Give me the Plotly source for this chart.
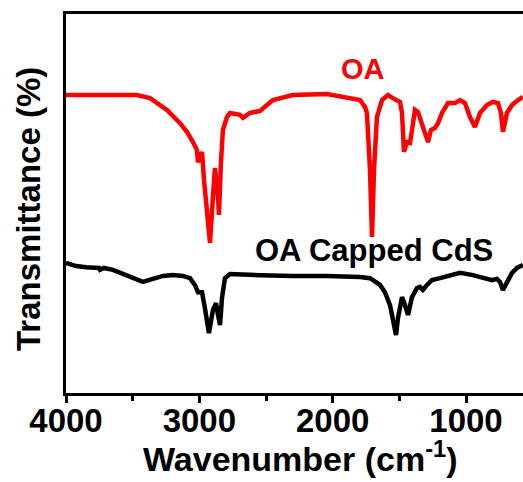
import plotly.graph_objects as go

# FTIR spectrum of oleic acid (OA)
oa_wavenumber = [4000, 3745, 3468, 3370, 3243, 3145, 3093, 3048, 3018, 3010, 2980, 2965,
                 2935, 2920, 2898, 2883, 2860, 2853, 2838, 2823, 2793, 2770, 2695, 2673,
                 2620, 2545, 2448, 2298, 2043, 1893, 1795, 1758, 1743, 1720, 1705, 1690,
                 1668, 1630, 1585, 1548, 1495, 1480, 1465, 1443, 1420, 1405, 1383, 1360,
                 1330, 1308, 1285, 1263, 1233, 1210, 1180, 1135, 1083, 1045, 1008, 970,
                 933, 895, 843, 798, 760, 738, 723, 693, 655, 610, 573]
oa_transmittance = [78.6, 78.6, 78.6, 77.8, 74.7, 71.2, 68.9, 66.2, 64.1, 60.9, 63.6, 56.2,
                    44.9, 39.6, 51.7, 59.4, 51.7, 47.0, 60.7, 69.4, 72.8, 73.9, 73.4, 72.6,
                    73.9, 74.4, 77.3, 78.6, 78.9, 78.1, 77.3, 75.5, 73.9, 58.8, 41.2, 58.8,
                    72.8, 77.3, 78.6, 77.8, 76.8, 73.9, 63.6, 66.2, 66.0, 69.4, 74.7, 74.1,
                    71.2, 68.6, 66.2, 69.4, 69.9, 71.2, 73.9, 76.5, 76.5, 77.3, 76.5, 72.8,
                    70.2, 73.9, 76.0, 76.8, 76.5, 73.9, 68.9, 73.9, 76.0, 77.3, 78.1]

# FTIR spectrum of OA-capped CdS nanoparticles
cds_wavenumber = [4000, 3925, 3850, 3753, 3745, 3715, 3648, 3573, 3498, 3423, 3348, 3273,
                  3198, 3123, 3070, 3033, 3010, 2980, 2958, 2928, 2898, 2875, 2860, 2845,
                  2830, 2808, 2770, 2643, 2545, 2298, 2043, 1795, 1720, 1645, 1608, 1570,
                  1548, 1525, 1510, 1480, 1458, 1435, 1405, 1368, 1345, 1323, 1293, 1255,
                  1195, 1120, 1045, 948, 873, 805, 768, 745, 723, 693, 655, 618, 573]
cds_transmittance = [34.3, 33.5, 33.2, 33.0, 32.5, 33.0, 32.5, 31.4, 30.1, 29.3, 30.1, 30.9,
                     31.1, 30.9, 30.3, 28.5, 26.6, 26.6, 22.4, 15.8, 21.9, 23.7, 20.6, 17.9,
                     25.1, 30.3, 31.4, 31.1, 31.1, 30.9, 30.9, 30.6, 30.3, 28.5, 26.6, 23.2,
                     18.7, 15.3, 19.8, 25.3, 23.2, 20.6, 25.3, 27.7, 28.0, 27.2, 28.5, 29.8,
                     30.3, 31.1, 31.7, 31.1, 30.3, 29.8, 30.1, 29.3, 27.2, 29.3, 31.7, 33.0, 33.8]

x_ticks = [4000, 3000, 2000, 1000]
x_tick_labels = ["4000", "3000", "2000", "1000"]
x_minor_ticks = [3500, 2500, 1500, 500]

FONT = "Liberation Sans, Arial, sans-serif"

fig = go.Figure()
fig.add_trace(go.Scatter(x=oa_wavenumber, y=oa_transmittance, mode="lines",
                         line=dict(color="#ff0000", width=4.5), name="OA"))
fig.add_trace(go.Scatter(x=cds_wavenumber, y=cds_transmittance, mode="lines",
                         line=dict(color="#000000", width=4.5), name="OA Capped CdS"))

# curve labels
fig.add_annotation(x=1772, y=85.5, text="OA", showarrow=False,
                   xanchor="center", yanchor="middle",
                   font=dict(family=FONT, size=29, color="#ff0000", weight="bold"))
fig.add_annotation(x=1690, y=37.5, text="OA Capped CdS", showarrow=False,
                   xanchor="center", yanchor="middle",
                   font=dict(family=FONT, size=31, color="#000000", weight="bold"))

# axis titles
fig.add_annotation(xref="paper", yref="paper", x=-0.081, y=0.4855,
                   text="Transmittance (%)", textangle=-90, showarrow=False,
                   xanchor="center", yanchor="middle",
                   font=dict(family=FONT, size=33, color="black", weight="bold"))
fig.add_annotation(xref="paper", yref="paper", x=0.514, y=-0.168,
                   text="Wavenumber (cm<sup>-1</sup>)", showarrow=False,
                   xanchor="center", yanchor="middle",
                   font=dict(family=FONT, size=34, color="black", weight="bold"))

fig.update_layout(
    width=523, height=482,
    margin=dict(l=66, r=0, t=14, b=89),
    paper_bgcolor="white", plot_bgcolor="white",
    showlegend=False,
    font=dict(family=FONT, color="black"),
)
fig.update_xaxes(
    range=[4000, 572.5],
    showgrid=False, zeroline=False,
    showline=True, linecolor="black", linewidth=3, mirror=True,
    tickmode="array", tickvals=x_ticks, ticktext=x_tick_labels,
    ticks="outside", ticklen=7, tickwidth=3, tickcolor="black",
    minor=dict(tickmode="array", tickvals=x_minor_ticks,
               ticks="outside", ticklen=5, tickwidth=3, tickcolor="black"),
    tickfont=dict(family=FONT, size=33, weight="bold"),
    ticklabelstandoff=-11,
)
fig.update_yaxes(
    range=[0, 100],
    showgrid=False, zeroline=False,
    showline=True, linecolor="black", linewidth=3, mirror=False,
    ticks="", showticklabels=False,
)

fig.write_html("out.html")
